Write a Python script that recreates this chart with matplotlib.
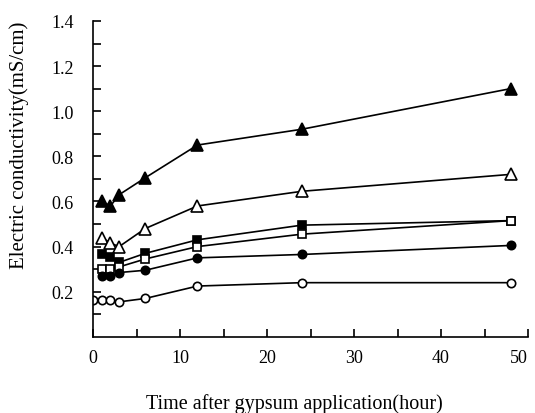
import matplotlib
matplotlib.use("Agg")
import matplotlib.pyplot as plt
import numpy as np

plt.rcParams['font.family'] = ['Liberation Serif', 'DejaVu Serif']

# hours after gypsum application
t = [1, 2, 3, 6, 12, 24, 48]
t_oc = [0, 1, 2, 3, 6, 12, 24, 48]

ec_tri_fill = [0.60, 0.58, 0.63, 0.705, 0.85, 0.92, 1.10]
ec_tri_open = [0.44, 0.415, 0.40, 0.48, 0.58, 0.645, 0.72]
ec_sq_fill = [0.365, 0.355, 0.33, 0.37, 0.43, 0.495, 0.515]
ec_sq_open = [0.30, 0.30, 0.31, 0.345, 0.40, 0.455, 0.515]
ec_ci_fill = [0.27, 0.27, 0.285, 0.295, 0.35, 0.365, 0.405]
ec_ci_open = [0.165, 0.165, 0.165, 0.155, 0.17, 0.225, 0.24, 0.24]

fig = plt.figure(figsize=(5.35, 4.14), dpi=100)
ax = fig.add_axes([0.174, 0.184, 0.813, 0.763])

kw = dict(color='black', lw=1.2, mec='black', mew=1.2)
ax.plot(t, ec_tri_fill, '-^', ms=9, mfc='black', **kw)
ax.plot(t, ec_tri_open, '-^', ms=9, mfc='white', **kw)
ax.plot(t, ec_sq_fill, '-s', ms=6, mfc='black', **kw)
ax.plot(t, ec_sq_open, '-s', ms=6, mfc='white', **kw)
ax.plot(t, ec_ci_fill, '-o', ms=6, mfc='black', **kw)
ax.plot(t_oc, ec_ci_open, '-o', ms=6, mfc='white', **kw)

ax.set_xlim(0, 50)
ax.set_ylim(0, 1.4)
ax.set_xticks(np.arange(0, 51, 10))
ax.set_xticks(np.arange(5, 50, 10), minor=True)
ax.set_yticks([0.2, 0.4, 0.6, 0.8, 1.0, 1.2, 1.4])
ax.set_yticks([0.1, 0.3, 0.5, 0.7, 0.9, 1.1, 1.3], minor=True)
ax.yaxis.set_major_formatter(matplotlib.ticker.FormatStrFormatter('%.1f'))
ax.tick_params(which='both', direction='in', length=6, width=1.2, labelsize=13)
ax.tick_params(axis='x', pad=9)
ax.tick_params(axis='y', pad=14)
# last x label sits flush with the axis end
ax.get_xticklabels()[-1].set_horizontalalignment('right')

for s in ['top', 'right']:
    ax.spines[s].set_visible(False)
for s in ['left', 'bottom']:
    ax.spines[s].set_linewidth(1.2)

ax.set_ylabel('Electric conductivity(mS/cm)', fontsize=15)
ax.yaxis.set_label_coords(-0.147, 0.61)
ax.set_xlabel('Time after gypsum application(hour)', fontsize=14.5, va='baseline')
ax.xaxis.set_label_coords(0.462, -0.225)

fig.savefig('out.png', dpi=100)
